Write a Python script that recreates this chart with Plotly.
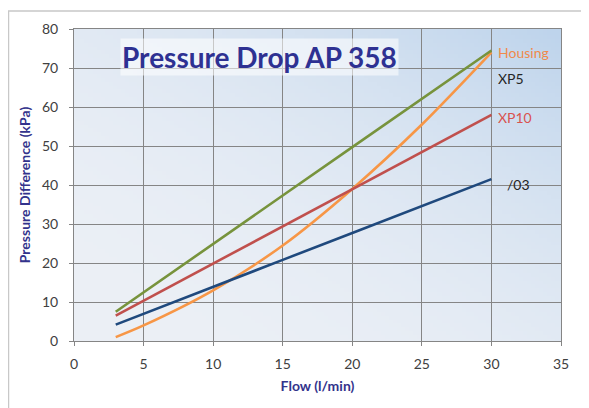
import base64, struct, zlib
import numpy as np
import plotly.graph_objects as go

flow = [3, 5, 10, 15, 20, 25, 30]
housing = [1.0, 4.0, 13.0, 24.5, 39.0, 55.5, 74.0]
xp5 = [7.5, 12.5, 24.9, 37.3, 49.7, 62.1, 74.5]
xp10 = [6.5, 10.3, 19.9, 29.4, 39.0, 48.5, 58.0]
s03 = [4.2, 7.0, 13.9, 20.8, 27.7, 34.6, 41.5]

series = [
    ("Housing", housing, "#f79646", "spline"),
    ("XP5", xp5, "#77933c", "linear"),
    ("XP10", xp10, "#c0504d", "linear"),
    ("/03", s03, "#1f497d", "linear"),
]

labels = [("Housing", 30.3, 74.1, "#f08a4b"), ("XP5", 30.3, 67.3, "#262626"),
          ("XP10", 30.3, 57.4, "#d9534f"), ("/03", 31.0, 40.2, "#262626")]


def gradient_png(w=120, h=80):
    c0 = np.array([236, 240, 246], float)
    c1 = np.array([190, 212, 236], float)
    yy, xx = np.mgrid[0:h, 0:w]
    u = xx / (w - 1)
    v = 1 - yy / (h - 1)
    t = np.clip((u + v) / 2, 0, 1) ** 2.2
    img = (c0[None, None, :] * (1 - t[..., None]) + c1[None, None, :] * t[..., None]).astype(np.uint8)
    raw = b"".join(b"\x00" + img[r].tobytes() for r in range(h))

    def chunk(tag, data):
        c = struct.pack(">I", len(data)) + tag + data
        return c + struct.pack(">I", zlib.crc32(tag + data) & 0xffffffff)

    png = b"\x89PNG\r\n\x1a\n" + chunk(b"IHDR", struct.pack(">IIBBBBB", w, h, 8, 2, 0, 0, 0)) \
        + chunk(b"IDAT", zlib.compress(raw, 9)) + chunk(b"IEND", b"")
    return "data:image/png;base64," + base64.b64encode(png).decode()


fig = go.Figure()
for name, ys, color, shape in series:
    fig.add_trace(go.Scatter(x=flow, y=ys, mode="lines", name=name,
                             line=dict(color=color, width=2.6, shape=shape, smoothing=0.8)))

font = "Lato, 'Open Sans', sans-serif"
for text, x, y, color in labels:
    fig.add_annotation(x=x, y=y, text=text, showarrow=False, xanchor="left", yanchor="middle",
                       font=dict(family=font, size=14, color=color))

fig.add_annotation(x=13.3, y=72.8, text="<b>Pressure Drop AP 358</b>", showarrow=False,
                   xanchor="center", yanchor="middle", bgcolor="rgba(255,255,255,0.55)",
                   font=dict(family=font, size=28, color="#2e3192"))

fig.add_layout_image(dict(source=gradient_png(), xref="paper", yref="paper", x=0, y=1,
                          sizex=1, sizey=1, sizing="stretch", layer="below", xanchor="left", yanchor="top"))

fig.add_shape(type="rect", xref="paper", yref="paper", x0=-0.1345, y0=-0.4, x1=1.2, y1=1.058,
              line=dict(color="#c8c8c8", width=1.5), fillcolor="rgba(0,0,0,0)", layer="below")

axis_common = dict(showgrid=True, gridcolor="#858585", gridwidth=1, ticks="outside", ticklen=4,
                   tickcolor="#858585", showline=True, linecolor="#858585", linewidth=1, mirror=True,
                   zeroline=False, tickfont=dict(family=font, size=14, color="#404040"))

fig.update_layout(
    width=581, height=400, showlegend=False,
    margin=dict(l=66, r=28, t=19, b=67),
    paper_bgcolor="white", plot_bgcolor="rgba(0,0,0,0)",
    xaxis=dict(range=[0, 35], dtick=5, ticklabelstandoff=6,
               title=dict(text="<b>Flow (l/min)</b>", standoff=10,
                          font=dict(family=font, size=14, color="#33338c")), **axis_common),
    yaxis=dict(range=[0, 80], dtick=10, ticklabelstandoff=8,
               title=dict(text="<b>Pressure Difference (kPa)</b>", standoff=8,
                          font=dict(family=font, size=14, color="#33338c")), **axis_common),
)

fig.write_html("out.html")
